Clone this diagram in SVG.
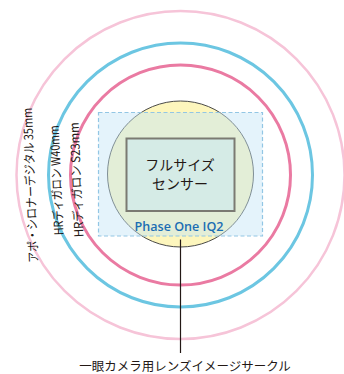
<svg xmlns="http://www.w3.org/2000/svg" width="344" height="374" viewBox="0 0 344 374">
<style>
.ring{fill:none}
.jp{font-family:"Noto Sans CJK JP","Noto Sans",sans-serif;fill:#231815}
.lbl{font-size:12.5px}
</style>
<rect width="344" height="374" fill="#ffffff"/>
<g id="circle-apo">
<circle class="ring" cx="180.5" cy="175" r="164" stroke="#f6c4d8" stroke-width="2.5"/>
<text class="jp lbl" transform="translate(35,185) rotate(-92.3)" text-anchor="middle" font-size="13" textLength="155" lengthAdjust="spacingAndGlyphs">アポ・シロナーデジタル 35mm</text>
</g>
<g id="circle-w40">
<circle class="ring" cx="180.5" cy="175" r="132" stroke="#6cc6e2" stroke-width="3"/>
<text class="jp lbl" transform="translate(61,180) rotate(-92.5)" text-anchor="middle" textLength="110" lengthAdjust="spacingAndGlyphs">HRディガロン W40mm</text>
</g>
<g id="circle-s23">
<circle class="ring" cx="180.5" cy="175" r="110" stroke="#ea7aa2" stroke-width="3"/>
<text class="jp lbl" transform="translate(81,179.5) rotate(-92.5)" text-anchor="middle" textLength="115" lengthAdjust="spacingAndGlyphs">HRディガロン S23mm</text>
</g>
<g id="circle-slr">
<circle cx="180.5" cy="174" r="73" fill="#fdf6bd" stroke="#4a4a48" stroke-width="1"/>
</g>
<g id="phase-one">
<rect x="98.5" y="112.5" width="164" height="123.5" fill="#c4e4f7" fill-opacity="0.45" stroke="#92c6e4" stroke-width="1.2" stroke-dasharray="4,2.5"/>
<text x="179" y="231" text-anchor="middle" font-family="'Open Sans','Noto Sans',sans-serif" font-size="13" font-weight="600" fill="#1b6db3" textLength="89" lengthAdjust="spacingAndGlyphs">Phase One IQ2</text>
</g>
<g id="full-sensor">
<rect x="126.5" y="138.5" width="108" height="72.5" fill="#d5ebe6" stroke="#7b7a72" stroke-width="2"/>
<text class="jp" x="180" y="170" text-anchor="middle" font-size="14">フルサイズ</text>
<text class="jp" x="180" y="189" text-anchor="middle" font-size="14">センサー</text>
</g>
<g id="connectors">
<line x1="180.5" y1="239.5" x2="180.5" y2="353" stroke="#231815" stroke-width="1.2"/>
</g>
<g id="caption">
<text class="jp" x="185" y="371" text-anchor="middle" font-size="12.5">一眼カメラ用レンズイメージサークル</text>
</g>
</svg>
